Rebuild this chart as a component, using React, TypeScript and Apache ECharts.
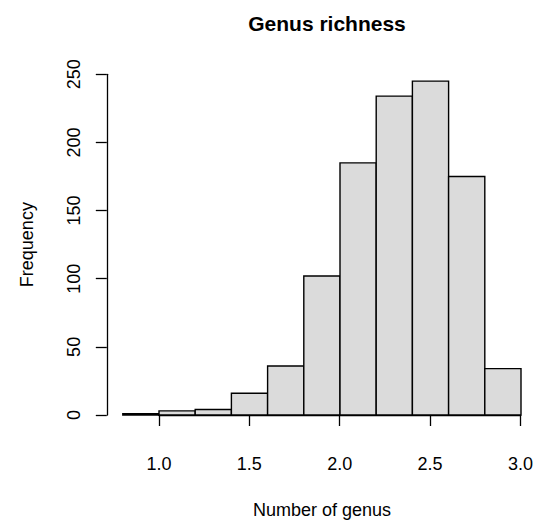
import React, { useEffect, useRef } from "react";
import * as echarts from "echarts";

const binStarts = [0.8, 1.0, 1.2, 1.4, 1.6, 1.8, 2.0, 2.2, 2.4, 2.6, 2.8];
const binEnds = [1.0, 1.2, 1.4, 1.6, 1.8, 2.0, 2.2, 2.4, 2.6, 2.8, 3.0];
const counts = [1, 3, 4, 16, 36, 102, 185, 234, 245, 175, 34];
const title = "Genus richness";
const xName = "Number of genus";
const yName = "Frequency";

const FONT = '"Liberation Sans", Arial, Helvetica, sans-serif';

export default function App() {
  const ref = useRef<HTMLDivElement>(null);
  useEffect(() => {
    if (!ref.current) return;
    const chart = echarts.init(ref.current, null, { renderer: "svg" });
    const data = binStarts.map((s, i) => [s, binEnds[i], counts[i]]);
    const gridLeft = 122.8;
    const gridRight = 536 - 521;
    const gridTop = 74.3;
    const gridBottom = 522 - 415;
    chart.setOption({
      animation: false,
      backgroundColor: "#ffffff",
      textStyle: { fontFamily: FONT },
      title: {
        text: title,
        left: 322,
        top: 8,
        textAlign: "center",
        textStyle: { fontFamily: FONT, fontSize: 21, fontWeight: "bold", color: "#000" },
      },
      graphic: [
        {
          type: "text",
          x: 322,
          y: 510,
          style: {
            text: xName,
            align: "center",
            verticalAlign: "middle",
            fontSize: 18,
            fontFamily: FONT,
            fill: "#000",
          },
        },
      ],
      grid: [
        { left: gridLeft, right: gridRight, top: gridTop, bottom: gridBottom },
        { left: 159, right: gridRight, top: gridTop, bottom: gridBottom },
      ],
      xAxis: [
        { type: "value", gridIndex: 0, min: 0.8, max: 3.0, show: false },
        {
          type: "value",
          gridIndex: 1,
          min: 1.0,
          max: 3.0,
          interval: 0.5,
          position: "bottom",
          offset: 15,
          splitLine: { show: false },
          axisLine: { show: true, lineStyle: { color: "#000", width: 1.3 } },
          axisTick: { show: true, length: 11, lineStyle: { color: "#000", width: 1.3 } },
          axisLabel: {
            margin: 25,
            fontSize: 18,
            color: "#000",
            fontFamily: FONT,
            formatter: (v: number) => v.toFixed(1),
          },
        },
      ],
      yAxis: [
        {
          type: "value",
          gridIndex: 0,
          min: 0,
          max: 250,
          interval: 50,
          offset: 16,
          splitLine: { show: false },
          axisLine: { show: true, lineStyle: { color: "#000", width: 1.3 } },
          axisTick: { show: true, length: 11, lineStyle: { color: "#000", width: 1.3 } },
          axisLabel: {
            rotate: 90,
            margin: 24,
            fontSize: 18,
            color: "#000",
            fontFamily: FONT,
          },
          name: yName,
          nameLocation: "middle",
          nameGap: 71,
          nameRotate: 90,
          nameTextStyle: { fontSize: 18, color: "#000", fontFamily: FONT },
        },
        { type: "value", gridIndex: 1, min: 0, max: 250, show: false },
      ],
      series: [
        {
          type: "custom",
          xAxisIndex: 0,
          yAxisIndex: 0,
          data,
          renderItem: (params: any, api: any) => {
            const p0 = api.coord([api.value(0), api.value(2)]);
            const p1 = api.coord([api.value(1), 0]);
            return {
              type: "rect",
              shape: { x: p0[0], y: p0[1], width: p1[0] - p0[0], height: p1[1] - p0[1] },
              style: { fill: "#dbdbdb", stroke: "#000", lineWidth: 1.4 },
            };
          },
        },
      ],
    });
    return () => chart.dispose();
  }, []);
  return (
    <div
      ref={ref}
      style={{ position: "fixed", left: 0, top: 0, width: 536, height: 522, background: "#fff" }}
    />
  );
}
